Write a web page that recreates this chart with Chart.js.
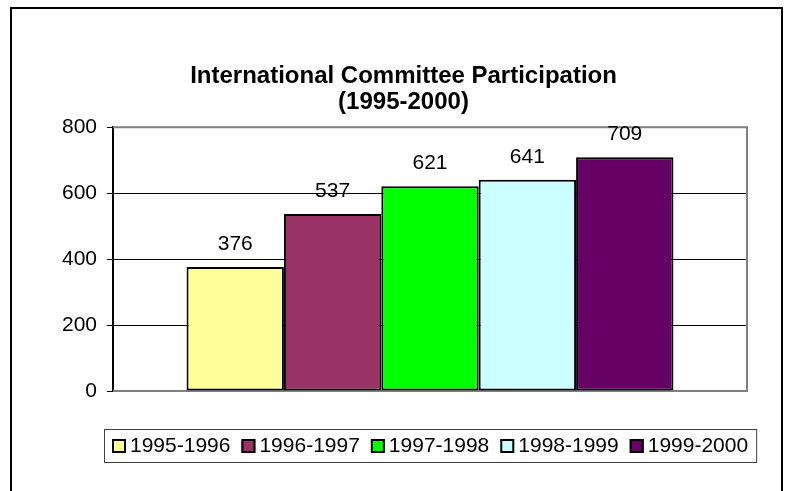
<!DOCTYPE html>
<html lang="en">
<head>
<meta charset="UTF-8">
<title>International Committee Participation</title>
<script src="https://cdn.jsdelivr.net/npm/chart.js"></script>
<style>
  body { margin: 0; background: #fff; }
  #wrap { position: relative; width: 785px; height: 491px; overflow: hidden; background: #fff; }
  #frame { position: absolute; left: 10px; top: 7px; width: 769px; height: 600px; border: 2px solid #000; pointer-events: none; }
</style>
</head>
<body>
<div id="wrap">
  <canvas id="chart" width="785" height="491"></canvas>
  <div id="frame"></div>
</div>
<script>
const titleLines = ['International Committee Participation', '(1995-2000)'];
const seasons = ['1995-1996', '1996-1997', '1997-1998', '1998-1999', '1999-2000'];
const participants = [376, 537, 621, 641, 709];
const barColors = ['#FFFF99', '#993366', '#00FF00', '#CCFFFF', '#660066'];
const yMin = 0;
const yMax = 800;
const yStep = 200;

const FONT = 'Arial, "Liberation Sans", sans-serif';
Chart.defaults.font.family = FONT;
Chart.defaults.color = '#000';

// gray plot-area frame (top, right, bottom) like Excel
const plotFrame = {
  id: 'plotFrame',
  beforeDatasetsDraw(chart) {
    const { ctx, chartArea: a } = chart;
    ctx.save();
    ctx.strokeStyle = '#808080';
    ctx.lineWidth = 2;
    ctx.beginPath();
    ctx.moveTo(a.left, a.top);
    ctx.lineTo(a.right, a.top);
    ctx.lineTo(a.right, a.bottom);
    ctx.lineTo(a.left, a.bottom);
    ctx.stroke();
    ctx.restore();
  }
};

// numbers above each bar
const valueLabels = {
  id: 'valueLabels',
  afterDatasetsDraw(chart) {
    const { ctx } = chart;
    ctx.save();
    ctx.font = '21px ' + FONT;
    ctx.fillStyle = '#000';
    ctx.textAlign = 'center';
    ctx.textBaseline = 'middle';
    chart.data.datasets.forEach((ds, i) => {
      const bar = chart.getDatasetMeta(i).data[0];
      ctx.fillText(String(ds.data[0]), bar.x, bar.y - 23);
    });
    ctx.restore();
  }
};

// boxed legend under the plot
const boxLegend = {
  id: 'boxLegend',
  afterDraw(chart) {
    const { ctx, chartArea: a } = chart;
    const sw = 14, gapIn = 4, gapOut = 11, pad = 8, h = 33;
    ctx.save();
    ctx.font = '21px ' + FONT;
    const widths = seasons.map(s => ctx.measureText(s).width);
    let total = pad * 2 - gapOut;
    widths.forEach(w => { total += sw + gapIn + w + gapOut; });
    const left = Math.round((a.left + a.right) / 2 - total / 2);
    const top = Math.round(a.bottom + 38);
    ctx.strokeStyle = '#404040';
    ctx.lineWidth = 1;
    ctx.strokeRect(left + 0.5, top + 0.5, total, h);
    const cy = top + h / 2 + 0.5;
    let x = left + pad;
    ctx.textBaseline = 'middle';
    ctx.textAlign = 'left';
    seasons.forEach((s, i) => {
      ctx.fillStyle = barColors[i];
      ctx.fillRect(x, cy - sw / 2, sw, sw);
      ctx.strokeStyle = '#000';
      ctx.lineWidth = 2;
      ctx.strokeRect(x + 1, cy - sw / 2 + 1, sw - 2, sw - 2);
      ctx.fillStyle = '#000';
      ctx.fillText(s, x + sw + gapIn, cy);
      x += sw + gapIn + widths[i] + gapOut;
    });
    ctx.restore();
  }
};

const ctx = document.getElementById('chart').getContext('2d');
new Chart(ctx, {
  type: 'bar',
  data: {
    labels: [''],
    datasets: seasons.map((s, i) => ({
      label: s,
      data: [participants[i]],
      backgroundColor: barColors[i],
      borderColor: '#000',
      borderWidth: 2,
      borderSkipped: false
    }))
  },
  options: {
    responsive: false,
    animation: false,
    layout: { padding: { left: 60, right: 38, top: 0, bottom: 100 } },
    datasets: {
      bar: { categoryPercentage: 0.768, barPercentage: 1.0 }
    },
    scales: {
      x: { display: false },
      y: {
        min: yMin,
        max: yMax,
        ticks: { stepSize: yStep, padding: 10, color: '#000', font: { size: 21 } },
        grid: {
          color: c => (c.tick && (c.tick.value === yMin || c.tick.value === yMax)) ? 'rgba(0,0,0,0)' : '#000',
          tickColor: '#000',
          tickLength: 6,
          lineWidth: 1
        },
        border: { display: true, color: '#000', width: 2 },
        afterFit(scale) { scale.width = 53; }
      }
    },
    plugins: {
      legend: { display: false },
      tooltip: { enabled: false },
      title: {
        display: true,
        text: titleLines,
        color: '#000',
        font: { size: 24, weight: 'bold', lineHeight: 1.09 },
        padding: { top: 63, bottom: 12 }
      }
    }
  },
  plugins: [plotFrame, valueLabels, boxLegend]
});
</script>
</body>
</html>
